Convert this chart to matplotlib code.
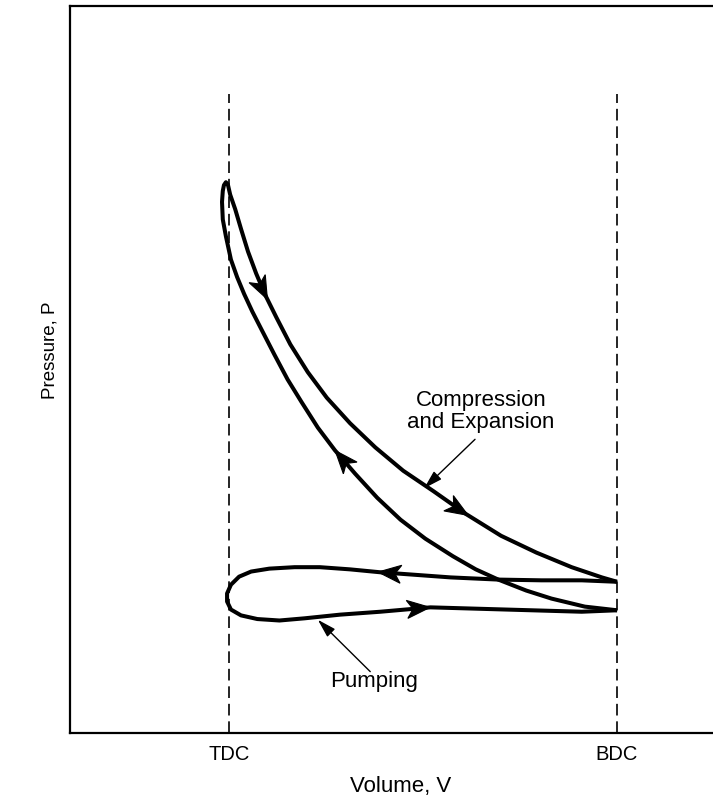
import numpy as np
import matplotlib
matplotlib.use('Agg')
import matplotlib.pyplot as plt
from matplotlib.patches import Polygon
from matplotlib.transforms import IdentityTransform

plt.rcParams['font.family'] = ['Liberation Sans', 'DejaVu Sans']

# volume: TDC = 0, BDC = 1 ; pressure in arbitrary units
tick_vals = [0.0, 1.0]
tick_labels = ['TDC', 'BDC']

# compression stroke, BDC -> TDC (lower curve)
comp_v = [1.0, 0.917, 0.831, 0.766, 0.694, 0.636, 0.577, 0.506, 0.442, 0.382,
          0.325, 0.273, 0.229, 0.187, 0.151, 0.117, 0.086, 0.060, 0.039, 0.021,
          0.005, -0.008, -0.016, -0.018, -0.016, -0.013, -0.008]
comp_p = [1.73, 1.78, 1.89, 2.00, 2.15, 2.29, 2.47, 2.71, 2.97, 3.27,
          3.60, 3.92, 4.23, 4.58, 4.89, 5.23, 5.55, 5.82, 6.06, 6.29,
          6.53, 6.85, 7.08, 7.32, 7.47, 7.55, 7.59]

# expansion stroke, TDC -> BDC (upper curve)
exp_v = [-0.008, -0.003, 0.003, 0.016, 0.031, 0.049, 0.070, 0.094, 0.122, 0.158,
         0.203, 0.252, 0.312, 0.377, 0.449, 0.527, 0.610, 0.701, 0.792, 0.883,
         0.961, 1.0]
exp_p = [7.59, 7.56, 7.42, 7.22, 6.95, 6.64, 6.34, 6.04, 5.74, 5.37,
         4.99, 4.64, 4.29, 3.96, 3.64, 3.36, 3.05, 2.75, 2.52, 2.32,
         2.18, 2.12]

# pumping loop (exhaust then intake)
pump_v = [1.0, 0.909, 0.805, 0.694, 0.571, 0.468, 0.390, 0.312, 0.234, 0.169,
          0.104, 0.057, 0.026, 0.005, -0.005, -0.005, 0.005, 0.031, 0.073, 0.130,
          0.195, 0.286, 0.390, 0.519, 0.649, 0.779, 0.909, 1.0]
pump_p = [2.12, 2.14, 2.14, 2.15, 2.18, 2.22, 2.25, 2.29, 2.32, 2.32,
          2.30, 2.26, 2.19, 2.08, 1.96, 1.85, 1.74, 1.66, 1.61, 1.59,
          1.62, 1.67, 1.71, 1.77, 1.75, 1.73, 1.71, 1.73]

fig = plt.figure(figsize=(7.13, 7.97), dpi=100)
ax = fig.add_axes([0.0975, 0.0803, 0.929, 0.912])
ax.set_xlim(-0.411, 1.296)
ax.set_ylim(0.05, 10.0)

for s in ['left', 'top', 'bottom']:
    ax.spines[s].set_linewidth(1.6)
ax.spines['right'].set_visible(False)

ax.set_xticks(tick_vals)
ax.set_xticklabels(tick_labels, fontsize=14.5)
ax.tick_params(axis='x', length=0, pad=8.6)
ax.set_yticks([])

ax.set_xlabel('Volume, V', fontsize=16)
ax.xaxis.set_label_coords(0.5, -0.059)
ax.set_ylabel('Pressure, P', fontsize=13.5)
ax.yaxis.set_label_coords(-0.016, 0.527)

ax.vlines(tick_vals, 0.05, 8.8, colors='black', linewidth=1.2,
          linestyles=[(0, (7, 3.5))])

lw = 2.9
cycle_v = comp_v + exp_v[1:]
cycle_p = comp_p + exp_p[1:]
ax.plot(cycle_v, cycle_p, color='black', lw=lw, solid_joinstyle='round',
        solid_capstyle='butt')
ax.plot(pump_v, pump_p, color='black', lw=lw, solid_joinstyle='round',
        solid_capstyle='butt')


def head(vs, ps, near, L=23, W=9, N=6):
    # stealth style arrowhead laid on the curve, pointing along the data order
    pts = ax.transData.transform(np.column_stack([vs, ps]))
    q = ax.transData.transform(near)
    a, b = pts[:-1], pts[1:]
    ab = b - a
    t = np.clip(((q - a) * ab).sum(1) / (ab * ab).sum(1), 0, 1)
    proj = a + ab * t[:, None]
    k = np.argmin(np.hypot(*(proj - q).T))
    tip = proj[k]
    d = ab[k] / np.hypot(*ab[k])
    n = np.array([-d[1], d[0]])
    poly = [tip, tip - L * d + W * n, tip - (L - N) * d, tip - L * d - W * n]
    ax.add_patch(Polygon(poly, closed=True, transform=IdentityTransform(),
                         facecolor='black', edgecolor='black', lw=0.8, zorder=4))


head(exp_v, exp_p, (0.10, 5.99))
head(exp_v, exp_p, (0.613, 3.0))
head(comp_v, comp_p, (0.27, 3.9))
head(pump_v, pump_p, (0.384, 2.25))
head(pump_v, pump_p, (0.518, 1.77))

thin = dict(arrowstyle='-|>,head_length=0.75,head_width=0.22', color='black',
            lw=1.0, mutation_scale=15, shrinkA=0, shrinkB=0)

ax.text(0.649, 4.45, 'Compression\nand Expansion', fontsize=16,
        ha='center', va='center', multialignment='center', linespacing=1.1)
ax.annotate('', xy=(0.503, 3.40), xytext=(0.634, 4.07), arrowprops=thin)

ax.text(0.374, 0.75, 'Pumping', fontsize=16, ha='center', va='center')
ax.annotate('', xy=(0.229, 1.60), xytext=(0.364, 0.89), arrowprops=thin)

fig.savefig('out.png', dpi=100)
